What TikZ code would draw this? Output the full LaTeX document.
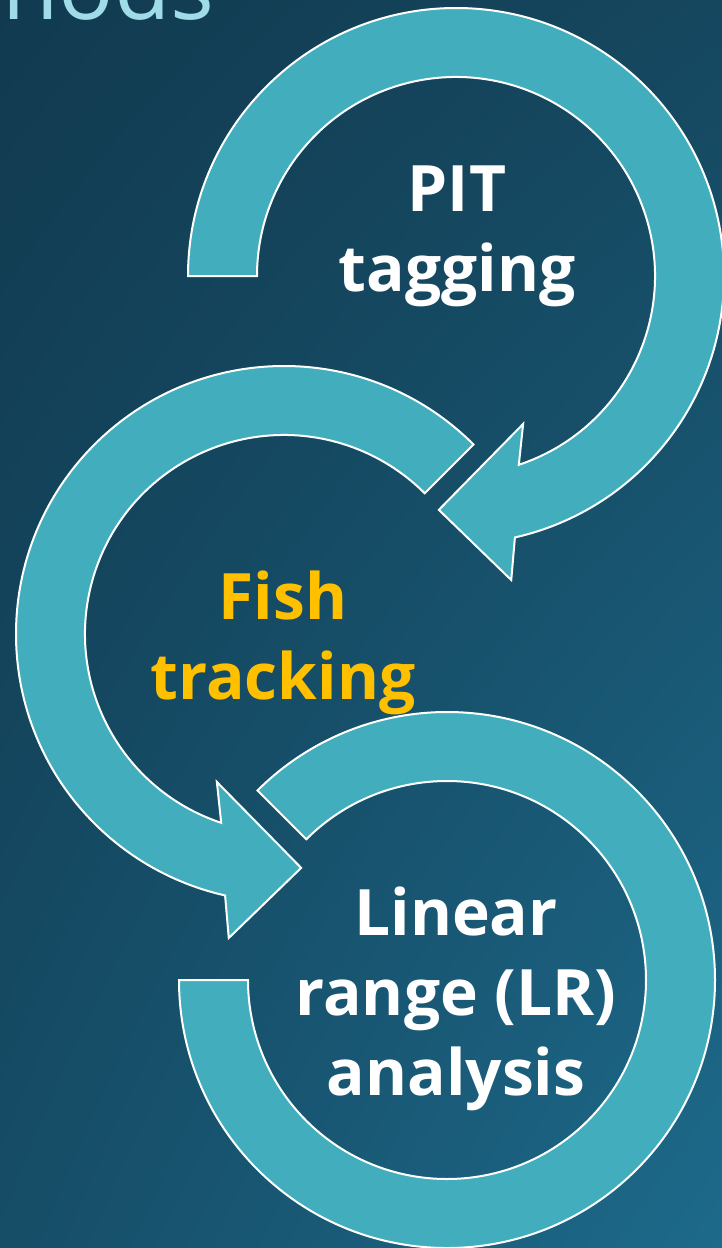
\documentclass[tikz,border=0pt]{standalone}
\usepackage{fontspec}
\setmainfont{Open Sans}
\usepackage{tikz}
\usetikzlibrary{shadings}
\definecolor{bgdark}{HTML}{113A4F}
\definecolor{bgtopright}{HTML}{15475F}
\definecolor{bgbotleft}{HTML}{164D67}
\definecolor{bglight}{HTML}{1D6A8B}
\definecolor{ringfill}{HTML}{42AEBD}
\definecolor{goldtext}{HTML}{FFC000}
\definecolor{titlecyan}{HTML}{9FDCE8}

\begin{document}
\begin{tikzpicture}[x=0.5pt, y=0.5pt, every node/.style={align=center, inner sep=0pt}]
\tikzset{
  ring/.style={fill=ringfill, draw=white, line width=1pt, line join=miter},
  steplabel/.style={text=white, font=\fontsize{32}{40}\selectfont\bfseries}
}
\clip (0,0) rectangle (722,-1248);
\shade[upper left=bgdark, upper right=bgtopright, lower left=bgbotleft, lower right=bglight] (0,0) rectangle (722,-1248);
\coordinate (c1) at (456,-276);
\coordinate (c2) at (284,-634);
\coordinate (c3) at (447,-980);
\node[anchor=base west, text=titlecyan, font=\fontsize{46}{50}\selectfont] (title) at (2,-19) {hods};
\draw[ring, shift={(c3)}] (180:268) arc[start angle=180, end angle=495, radius=268] -- (135:199) arc[start angle=135, end angle=-180, radius=199] -- cycle;
\draw[ring, shift={(c2)}] (45:268) arc[start angle=45, end angle=257.3, radius=268] -- (259.7:309) -- (274.2:234.5) -- (245.6:162.5) -- (251.6:199) arc[start angle=251.6, end angle=45, radius=199] -- cycle;
\draw[ring, shift={(c1)}] (180:268) arc[start angle=180, end angle=-77.3, radius=268] -- (-79.7:309) -- (-94.2:234.5) -- (-65.6:162.5) -- (-71.6:199) arc[start angle=-71.6, end angle=180, radius=199] -- cycle;
\node[steplabel] (pit) at (457,-236) {PIT\\tagging};
\node[steplabel, text=goldtext] (fish) at (283,-643) {Fish\\tracking};
\node[steplabel] (lr) at (456,-999) {Linear\\range (LR)\\analysis};
\end{tikzpicture}
\end{document}
